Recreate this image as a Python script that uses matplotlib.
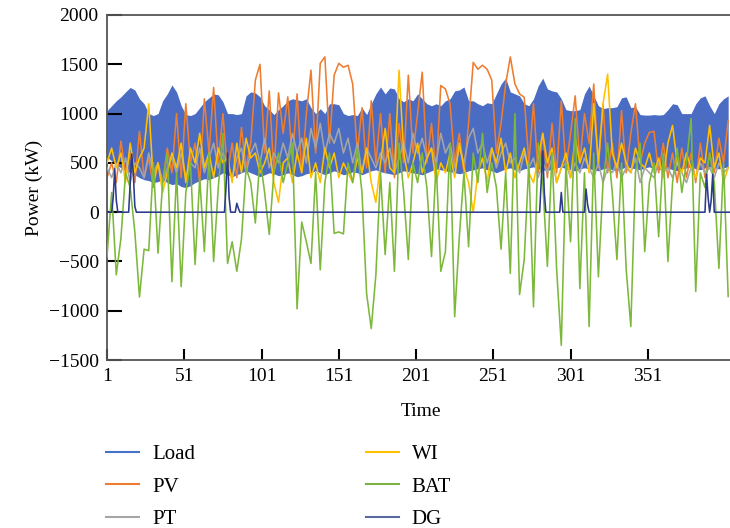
import numpy as np
from matplotlib import pyplot as plt
from matplotlib.lines import Line2D

# daily values sampled every 3 days (day 1, 4, 7, ... 403)
days = np.arange(1, 404, 3)

load_high = [1030, 1080, 1130, 1170, 1220, 1265, 1240, 1150, 1100, 1000,
             980, 1000, 1130, 1200, 1290, 1220, 1080, 990, 980, 1000,
             1060, 1120, 1160, 1200, 1190, 1120, 1000, 1000, 990, 1000,
             1180, 1220, 1210, 1170, 1080, 1040, 990, 1040, 1080, 1130,
             1150, 1140, 1130, 1150, 1060, 1000, 1050, 1000, 1100, 1100,
             1090, 1000, 980, 990, 980, 1060, 990, 1100, 1200, 1270,
             1200, 1260, 1250, 1150, 1120, 1150, 1130, 1200, 1150, 1100,
             1080, 1100, 1080, 1130, 1150, 1230, 1240, 1270, 1130, 1130,
             1100, 1080, 1110, 1100, 1200, 1300, 1360, 1220, 1200, 1180,
             1100, 1080, 1150, 1280, 1360, 1250, 1230, 1220, 1150, 1040,
             1030, 1030, 1040, 1200, 1280, 1180, 1080, 1050, 1060, 1060,
             1070, 1160, 1170, 1060, 1070, 990, 985, 985, 990, 985,
             990, 1040, 1100, 1090, 1000, 1000, 1000, 1100, 1160, 1180,
             1080, 1000, 1100, 1150, 1180]

load_low = [560, 520, 480, 450, 420, 400, 380, 350, 330, 320,
            300, 310, 330, 300, 280, 290, 260, 250, 270, 300,
            320, 340, 330, 350, 370, 400, 380, 360, 380, 400,
            420, 400, 380, 360, 380, 400, 390, 370, 380, 400,
            380, 360, 370, 390, 400, 420, 400, 380, 400, 420,
            400, 380, 390, 410, 400, 380, 400, 420, 430, 410,
            400, 390, 380, 400, 420, 410, 400, 390, 380, 400,
            420, 440, 430, 420, 410, 400, 390, 400, 420, 430,
            440, 450, 430, 420, 400, 420, 440, 450, 430, 420,
            440, 450, 460, 440, 430, 420, 440, 450, 460, 440,
            430, 420, 440, 450, 440, 430, 420, 440, 450, 430,
            420, 440, 460, 450, 440, 430, 450, 460, 440, 430,
            440, 450, 430, 420, 440, 450, 460, 440, 430, 450,
            460, 450, 440, 450, 460]

pv = [350, 500, 300, 720, 400, 600, 300, 820, 350, 550,
      250, 500, 300, 650, 400, 1000, 350, 1100, 500, 700,
      300, 1150, 600, 1265, 500, 1000, 400, 700, 350, 860,
      450, 700, 1340, 1500, 600, 1230, 400, 1210, 800, 1170,
      500, 1200, 400, 1000, 1440, 600, 1510, 1575, 700, 1390,
      1510, 1470, 1490, 1300, 600, 1060, 450, 1130, 500, 1000,
      400, 1000, 350, 900, 500, 1390, 600, 1000, 1420, 500,
      900, 400, 1285, 1250, 1100, 500, 800, 400, 900, 1520,
      1450, 1490, 1450, 1340, 600, 900, 1300, 1575, 1300, 1200,
      1165, 500, 1100, 400, 800, 350, 900, 400, 1130, 450,
      800, 1180, 500, 1000, 700, 1300, 450, 1100, 400, 700,
      350, 1030, 400, 800, 1100, 500, 700, 810, 820, 400,
      700, 350, 600, 300, 650, 350, 600, 300, 700, 350,
      600, 400, 750, 500, 930]

pt = [450, 350, 500, 400, 550, 300, 500, 450, 350, 600,
      400, 500, 300, 450, 550, 400, 600, 350, 500, 450,
      650, 400, 550, 700, 450, 600, 500, 350, 550, 650,
      400, 600, 700, 500, 750, 450, 600, 500, 700, 550,
      800, 600, 750, 500, 850, 650, 900, 600, 800, 700,
      850, 600, 750, 500, 700, 400, 650, 550, 450, 600,
      500, 650, 400, 550, 700, 500, 800, 600, 750, 550,
      650, 500, 800, 600, 700, 450, 650, 500, 750, 850,
      600, 700, 500, 650, 450, 600, 700, 500, 550, 400,
      600, 450, 550, 350, 500, 400, 550, 300, 450, 500,
      350, 500, 400, 550, 450, 350, 500, 300, 450, 400,
      500, 350, 450, 400, 550, 300, 450, 400, 350, 500,
      400, 450, 350, 500, 400, 300, 450, 350, 500, 400,
      450, 350, 500, 400, 450]

wi = [500, 650, 450, 600, 300, 700, 400, 550, 650, 1100,
      300, 500, 200, 400, 600, 450, 700, 300, 650, 500,
      800, 450, 600, 350, 650, 500, 550, 300, 700, 400,
      750, 550, 600, 400, 500, 650, 300, 100, 500, 550,
      300, 600, 400, 750, 350, 500, 300, 650, 450, 600,
      350, 500, 400, 300, 550, 400, 650, 300, 100, 500,
      850, 450, 400, 1440, 600, 350, 500, 700, 400, 550,
      650, 300, 500, 400, 600, 350, 700, 450, 300, 0,
      400, 550, 300, 650, 500, 750, 400, 600, 350, 500,
      650, 400, 300, 550, 800, 500, 650, 300, 450, 600,
      350, 750, 500, 650, 400, 1100, 500, 1100, 1400, 600,
      450, 700, 500, 400, 650, 500, 450, 600, 400, 550,
      350, 700, 880, 500, 400, 600, 450, 350, 550, 500,
      880, 450, 600, 300, 450]

bat = [-450, 200, -635, -265, 400, 250, -200, -860, -375, -390,
       500, -415, 300, 600, -705, 400, -755, 200, 500, -530,
       350, -400, 600, -500, 250, 800, -520, -300, -600, -275,
       450, 300, -110, 550, 200, -225, 400, 600, 300, 500,
       700, -980, -100, -300, -520, 400, -585, 300, 600, -215,
       -200, -220, 500, 300, 650, 200, -825, -1180, -635, 400,
       -430, 300, -600, 700, 200, -480, 500, 300, 600, 250,
       -450, 500, -600, -400, 700, -1060, -250, 400, -350, 600,
       300, 800, 200, 500, 250, -375, 400, -620, 1000, -835,
       -480, 500, -960, 700, 300, -550, 600, -585, -1350, 500,
       -300, 950, -775, 400, -1160, 600, -655, 300, 700, 200,
       -480, 500, -580, -1160, 400, 700, -400, 300, 500, -250,
       600, -500, 300, 650, 200, 500, 950, -805, 400, 250,
       600, 300, -570, 500, -855]

# diesel generator: zero except a few days
dg_on_days = [5, 6, 7, 16, 17, 18, 19, 78, 79, 80, 85, 86,
              282, 283, 284, 295, 311, 312, 389, 390, 392, 393]
dg_on_kw = [150, 440, 120, 300, 590, 400, 60, 250, 600, 150, 90, 40,
            300, 620, 200, 200, 235, 80, 385, 150, 120, 385]

all_days = np.arange(1, 405)
dg = np.zeros(len(all_days))
dg[np.array(dg_on_days) - 1] = dg_on_kw

c_load = "#4A6CC2"
c_pv = "#ED7D31"
c_pt = "#A5A5A5"
c_wi = "#FFC000"
c_bat = "#7CB83A"
c_dg = "#2B3A8A"

plt.rcParams["font.family"] = ["Liberation Serif", "DejaVu Serif"]
plt.rcParams["font.size"] = 14

fig = plt.figure(figsize=(7.3, 5.28), dpi=100)
ax = fig.add_axes([0.1466, 0.318, 0.86, 0.6536])

# load drawn as a band between its daily low and high
ax.fill_between(days, load_low, load_high, color=c_load, lw=0, zorder=1)

lw = 1.15
ax.plot(days, pv, color=c_pv, lw=lw, zorder=2)
ax.plot(days, pt, color=c_pt, lw=lw, zorder=3)
ax.plot(days, wi, color=c_wi, lw=lw, zorder=4)
ax.plot(days, bat, color=c_bat, lw=lw, zorder=5)
ax.plot(all_days, dg, color=c_dg, lw=lw, zorder=6)

ax.set_xlim(1, 407.3)
ax.set_ylim(-1500, 2000)
ax.set_xticks([1, 51, 101, 151, 201, 251, 301, 351])
ax.set_yticks(np.arange(-1500, 2001, 500))
ax.tick_params(axis="y", direction="in", length=11, width=1.5, pad=6)
ax.tick_params(axis="x", direction="in", length=8, width=1.5, pad=6)
for s in ax.spines.values():
    s.set_color("#555555")
    s.set_linewidth(1.3)
ax.spines["right"].set_visible(False)

ax.set_xlabel("Time", labelpad=13)
ax.set_ylabel("Power (kW)", labelpad=4)

handles = [Line2D([], [], color="#4472C4", lw=1.5),
           Line2D([], [], color=c_pv, lw=1.5),
           Line2D([], [], color=c_pt, lw=1.5),
           Line2D([], [], color=c_wi, lw=1.5),
           Line2D([], [], color="#7CB342", lw=1.5),
           Line2D([], [], color="#5A6A9E", lw=1.5)]
labels = ["Load", "PV", "PT", "WI", "BAT", "DG"]
fig.legend(handles, labels, ncol=2, loc="upper left",
           bbox_to_anchor=(0.131, 0.178), frameon=False,
           prop={"size": 15}, handlelength=1.6, handletextpad=0.6,
           columnspacing=8.2, labelspacing=0.62, borderpad=0)

fig.savefig("out.png", dpi=100)
